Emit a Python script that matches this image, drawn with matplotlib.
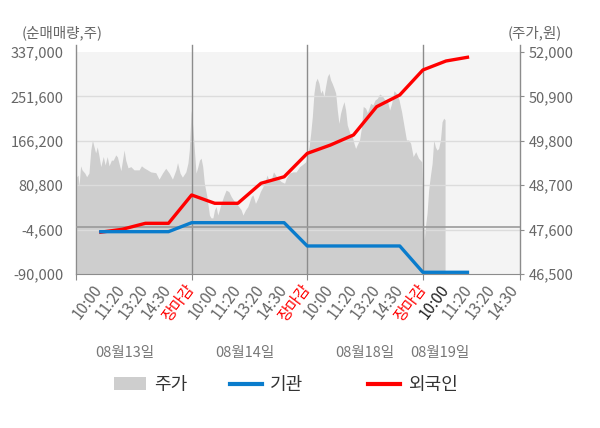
import matplotlib
matplotlib.use("Agg")
import matplotlib.pyplot as plt
from matplotlib.patches import Patch
from matplotlib.lines import Line2D
from matplotlib.transforms import blended_transform_factory

plt.rcParams['font.family'] = ['Noto Sans CJK KR', 'DejaVu Sans']

# 주가 (intraday, x = 구간 위치)
price_pos = [0.03, 0.09, 0.13, 0.20, 0.26, 0.38, 0.46, 0.56, 0.64, 0.71,
             0.78, 0.85, 0.92, 1.00, 1.07, 1.18, 1.26, 1.35, 1.43, 1.53,
             1.61, 1.72, 1.79, 1.94, 2.08, 2.15, 2.25, 2.37, 2.51, 2.73,
             2.83, 2.94, 3.09, 3.23, 3.45, 3.59, 3.74, 3.88, 4.03, 4.17,
             4.32, 4.39, 4.50, 4.60, 4.75, 4.84, 4.90,
             4.98, 5.05, 5.12, 5.19, 5.27, 5.34, 5.41, 5.48, 5.55, 5.66,
             5.77, 5.84, 5.92, 5.99, 6.06, 6.13, 6.20, 6.28, 6.38, 6.49,
             6.61, 6.71, 6.81, 6.93, 7.04, 7.14, 7.22, 7.33, 7.43, 7.58,
             7.65, 7.76, 7.87, 7.97, 8.08, 8.20, 8.26, 8.34, 8.44, 8.54,
             8.63, 8.73, 8.87, 9.02, 9.09, 9.23, 9.38, 9.52, 9.67, 9.81,
             9.93,
             10.08, 10.15, 10.22, 10.29, 10.36, 10.43, 10.51, 10.58, 10.65, 10.72,
             10.79, 10.87, 10.94, 11.01, 11.08, 11.16, 11.23, 11.30, 11.37, 11.44,
             11.52, 11.59, 11.66, 11.73, 11.80, 11.87, 11.95, 12.02, 12.09, 12.16,
             12.26, 12.35, 12.42, 12.52, 12.60, 12.67, 12.74, 12.84, 12.93, 13.03,
             13.13, 13.25, 13.36, 13.46, 13.56, 13.65, 13.75, 13.85, 13.97, 14.08,
             14.19, 14.29, 14.38, 14.47, 14.58, 14.69, 14.81, 14.95,
             15.01, 15.06, 15.11, 15.18, 15.25, 15.32, 15.40, 15.47, 15.54, 15.61,
             15.68, 15.76, 15.83, 15.90, 15.96]
price = [48910, 48950, 48680, 49180, 49080, 49000, 48910, 49000, 49570, 49820,
         49650, 49500, 49650, 49410, 49160, 49410, 49200, 49410, 49180, 49320,
         49320, 49450, 49400, 49060, 49570, 49320, 49130, 49160, 49080, 49080,
         49180, 49130, 49080, 49030, 49010, 48850, 49000, 49120, 49000, 48850,
         49080, 49260, 49000, 48900, 49030, 49250, 49570,
         50560, 50150, 49570, 49000, 49160, 49320, 49370, 49160, 48750, 48420,
         47960, 47890, 47890, 48090, 48170, 47960, 48090, 48250, 48420, 48580,
         48540, 48420, 48330, 48250, 48170, 48090, 47960, 48090, 48170, 48420,
         48460, 48250, 48380, 48540, 48660, 48830, 48950, 48830, 48830, 49030,
         48950, 48870, 48790, 48750, 48870, 49000, 49030, 49030, 49160, 49220,
         49280,
         49650, 49990, 50400, 50980, 51260, 51350, 51220, 50980, 51060, 50890,
         51140, 51390, 51470, 51310, 51220, 51100, 50980, 50560, 50230, 50480,
         50650, 50770, 50560, 50190, 50070, 49940, 49900, 49740, 49610, 49700,
         49820, 50150, 50650, 50610, 50500, 50610, 50730, 50690, 50810, 50850,
         50960, 50910, 50810, 50810, 50560, 50730, 51040, 50980, 50810, 50520,
         50150, 49820, 49820, 49740, 49410, 49530, 49370, 49280,
         48090, 47340, 47670, 48000, 48580, 48910, 49240, 49820, 49650, 49570,
         49610, 49820, 50270, 50360, 50320]

# 누적 순매매량 (10:00, 11:20, 13:20, 14:30, 장마감 마다)
line_pos = list(range(1, 18))
foreign = [-10000, -4000, 7500, 7500, 62000, 46000, 46000, 84500, 97000,
           142000, 158000, 177400, 231800, 254300, 302400, 319700, 327400]
institution = [-8600, -8600, -8600, -8600, 8700, 8700, 8700, 8700, 8700,
               -36100, -36100, -36100, -36100, -36100, -86700, -86700, -86700]

time_labels = ['10:00', '11:20', '13:20', '14:30', '장마감'] * 3 + ['10:00', '11:20', '13:20', '14:30']
day_labels = ['08월13일', '08월14일', '08월18일', '08월19일']
vol_ticks = [-90000, -4600, 80800, 166200, 251600, 337000]
price_ticks = [46500, 47600, 48700, 49800, 50900, 52000]

x_end = 19.2
day_bounds = [0, 5, 10, 15, x_end]
day_label_x = [2.12, 7.31, 12.5, 15.75]

fig = plt.figure(figsize=(6, 4.28), dpi=100)
ax = fig.add_axes([76 / 600, 1 - 274 / 428, 444 / 600, 222 / 428])
ax2 = ax.twinx()

ax.set_facecolor('#f4f4f4')
ax.fill_between(price_pos, price, price_ticks[0], color='#cecece', lw=0, zorder=1)
for t in price_ticks[1:-1]:
    ax.axhline(t, color='#dcdcdc', lw=1, zorder=2)
for b in day_bounds:
    ax.axvline(b, ymin=0, ymax=1.032, color='#8c8c8c', lw=1, clip_on=False, zorder=3)
ax.set_xlim(0, x_end)
ax.set_ylim(price_ticks[0], price_ticks[-1])

ax2.axhline(0, color='#9a9a9a', lw=1.2, zorder=1)
ax2.plot(line_pos, foreign, color='#ff0000', lw=2.4, zorder=3, solid_capstyle='butt')
ax2.plot(line_pos, institution, color='#0a7ccc', lw=2.4, zorder=4, solid_capstyle='butt')
ax2.set_ylim(vol_ticks[0], vol_ticks[-1])

for a in (ax, ax2):
    for s in a.spines.values():
        s.set_visible(False)
ax.spines['bottom'].set_visible(True)
ax.spines['bottom'].set_color('#8c8c8c')

# x축
ax.xaxis.remove_overlapping_locs = False
ax.set_xticks(day_bounds)
ax.set_xticklabels([])
ax.tick_params(axis='x', which='major', length=4, color='#8c8c8c')
ax.set_xticks(line_pos + [18, 19], minor=True)
ax.set_xticklabels(time_labels, minor=True)
ax.tick_params(axis='x', which='minor', length=0, pad=9, labelsize=11)
for i, lbl in enumerate(ax.get_xticklabels(minor=True)):
    lbl.set_rotation(53)
    lbl.set_ha('right')
    lbl.set_va('center')
    lbl.set_rotation_mode('anchor')
    if time_labels[i] == '장마감':
        lbl.set_color('#ff0000')
    elif i == 15:
        lbl.set_color('#222222')
    else:
        lbl.set_color('#666666')

# y축
ax.yaxis.tick_right()
ax.set_yticks(price_ticks)
ax.set_yticklabels([f'{v:,}' for v in price_ticks])
ax.tick_params(axis='y', length=3, color='#8c8c8c', pad=3, labelsize=10.5, labelcolor='#666666')
ax2.yaxis.tick_left()
ax2.set_yticks(vol_ticks)
ax2.set_yticklabels([f'{v:,}' for v in vol_ticks])
ax2.tick_params(axis='y', length=0, pad=9, labelsize=10.5, labelcolor='#666666')

fig.text(22 / 600, 1 - 33 / 428, '(순매매량,주)', ha='left', va='center', fontsize=10.5, color='#666666')
fig.text(562 / 600, 1 - 33 / 428, '(주가,원)', ha='right', va='center', fontsize=10.5, color='#666666')

tr = blended_transform_factory(ax.transData, fig.transFigure)
for x, d in zip(day_label_x, day_labels):
    fig.text(x, 1 - 353 / 428, d, transform=tr, ha='center', va='center', fontsize=10.5, color='#777777')

# 범례
handles = [Patch(facecolor='#cecece', edgecolor='none'),
           Line2D([0], [0], color='#0a7ccc', lw=3),
           Line2D([0], [0], color='#ff0000', lw=3)]
names = ['주가', '기관', '외국인']
leg_x = [114, 230, 368]
for h, n, lx in zip(handles, names, leg_x):
    fig.legend([h], [n], loc='center left', bbox_to_anchor=(lx / 600, 1 - 385 / 428),
               frameon=False, fontsize=13, handlelength=1.75, handleheight=0.75,
               handletextpad=0.45, borderpad=0, borderaxespad=0, labelcolor='#333333')

fig.savefig('out.png', dpi=100)
